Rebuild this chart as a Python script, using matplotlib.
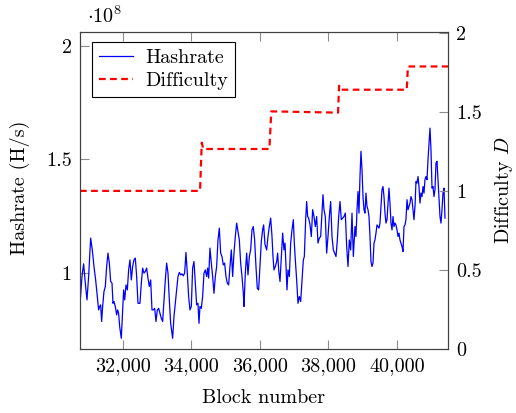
import matplotlib
matplotlib.use('Agg')
import matplotlib.pyplot as plt
from matplotlib.ticker import FuncFormatter

plt.rcParams['font.family'] = 'serif'
plt.rcParams['font.serif'] = ['cmr10']
plt.rcParams['mathtext.fontset'] = 'cm'
plt.rcParams['axes.formatter.use_mathtext'] = True

# hashrate, in units of 1e8 H/s
blocks = [30745, 30754, 30803, 30851, 30900, 30949, 30997, 31056, 31104, 31153,
          31202, 31250, 31289, 31319, 31348, 31377, 31406, 31445, 31484, 31523,
          31562, 31601, 31640, 31679, 31708, 31737, 31776, 31815, 31844, 31873,
          31903, 31951, 31990, 32019, 32049, 32088, 32127, 32165, 32204, 32243,
          32282, 32321, 32360, 32399, 32438, 32496, 32535, 32574, 32613, 32652,
          32691, 32730, 32769, 32808, 32847, 32886, 32925, 32964, 33003, 33042,
          33080, 33119, 33158, 33197, 33236, 33275, 33314, 33353, 33392, 33450,
          33489, 33528, 33567, 33606, 33645, 33683, 33722, 33761, 33800, 33839,
          33878, 33917, 33956, 33995, 34034, 34073, 34112, 34151, 34190, 34219,
          34248, 34287, 34326, 34365, 34404, 34443, 34472, 34501, 34540, 34579,
          34618, 34657, 34696, 34735, 34774, 34813, 34852, 34890, 34929, 34968,
          35007, 35046, 35085, 35124, 35163, 35202, 35241, 35280, 35319, 35358,
          35397, 35436, 35475, 35514, 35533, 35572, 35611, 35650, 35689, 35728,
          35767, 35805, 35844, 35883, 35922, 35961, 36000, 36039, 36078, 36107,
          36146, 36195, 36234, 36273, 36312, 36351, 36380, 36409, 36448, 36487,
          36516, 36546, 36585, 36624, 36662, 36701, 36731, 36760, 36789, 36818,
          36857, 36896, 36935, 36974, 37003, 37032, 37071, 37110, 37149, 37188,
          37227, 37266, 37295, 37334, 37363, 37392, 37422, 37461, 37499, 37538,
          37577, 37616, 37655, 37694, 37733, 37772, 37811, 37840, 37869, 37908,
          37947, 37986, 38025, 38064, 38103, 38142, 38181, 38220, 38259, 38298,
          38337, 38375, 38414, 38453, 38492, 38531, 38570, 38609, 38648, 38687,
          38726, 38774, 38803, 38833, 38862, 38891, 38920, 38949, 38979, 39008,
          39037, 39066, 39095, 39125, 39154, 39183, 39212, 39241, 39271, 39300,
          39329, 39358, 39387, 39417, 39446, 39475, 39504, 39533, 39563, 39592,
          39621, 39650, 39679, 39709, 39738, 39767, 39796, 39825, 39855, 39884,
          39913, 39942, 39971, 40001, 40030, 40059, 40088, 40117, 40147, 40176,
          40205, 40234, 40263, 40293, 40322, 40351, 40380, 40409, 40439, 40468,
          40497, 40526, 40555, 40585, 40614, 40643, 40672, 40701, 40731, 40760,
          40789, 40818, 40847, 40877, 40906, 40935, 40964, 40993, 41023, 41052,
          41081, 41110, 41139, 41169, 41198, 41227, 41256, 41285, 41315, 41344,
          41373, 41402]
hashrate = [0.60, 0.881, 0.984, 1.040, 0.955, 0.881, 0.984, 1.153, 1.101, 1.028,
            0.969, 0.896, 0.837, 0.852, 0.859, 0.786, 0.852, 0.918, 0.940, 1.028,
            1.087, 1.043, 0.962, 0.955, 0.866, 0.874, 0.852, 0.815, 0.837, 0.822,
            0.764, 0.712, 0.837, 0.925, 0.881, 0.947, 0.925, 1.013, 1.057, 0.969,
            1.028, 1.057, 1.065, 0.984, 0.866, 0.866, 0.955, 1.021, 0.999, 1.006,
            1.021, 0.977, 0.940, 0.969, 0.837, 0.837, 0.844, 0.786, 0.837, 0.844,
            0.822, 0.800, 0.786, 0.881, 0.969, 1.043, 0.999, 0.881, 0.778, 0.712,
            0.808, 0.866, 0.925, 0.984, 1.002, 0.991, 0.996, 0.987, 0.999, 1.090,
            0.999, 0.896, 0.837, 0.852, 1.021, 1.050, 0.955, 0.859, 0.866, 0.778,
            0.852, 0.844, 0.896, 0.999, 1.013, 0.984, 1.021, 0.977, 1.109, 1.043,
            0.984, 0.910, 0.984, 1.028, 1.145, 1.197, 1.087, 1.072, 1.035, 1.043,
            0.984, 0.955, 0.947, 1.028, 1.101, 0.984, 1.087, 1.160, 1.219, 1.182,
            1.145, 1.043, 0.984, 0.910, 0.852, 0.999, 1.087, 0.991, 1.072, 1.101,
            1.189, 1.204, 1.145, 1.028, 0.932, 0.925, 1.028, 1.138, 1.190, 1.211,
            1.125, 1.101, 1.160, 1.204, 1.241, 1.160, 1.072, 1.013, 1.028, 1.050,
            1.087, 1.013, 0.962, 1.072, 1.175, 1.101, 1.131, 1.028, 0.925, 1.013,
            0.984, 1.131, 1.189, 1.234, 1.131, 1.057, 0.969, 0.866, 0.896, 0.874,
            0.969, 1.057, 1.072, 1.234, 1.314, 1.248, 1.241, 1.211, 1.160, 1.278,
            1.248, 1.204, 1.248, 1.131, 1.153, 1.160, 1.263, 1.344, 1.278, 1.248,
            1.087, 1.160, 1.248, 1.314, 1.160, 1.101, 1.087, 1.072, 1.145, 1.248,
            1.314, 1.234, 1.241, 1.248, 1.263, 1.116, 1.028, 1.145, 1.101, 1.263,
            1.072, 1.204, 1.160, 1.278, 1.358, 1.263, 1.424, 1.535, 1.454, 1.336,
            1.278, 1.263, 1.351, 1.292, 1.278, 1.248, 1.160, 1.050, 1.028, 1.043,
            1.131, 1.145, 1.175, 1.211, 1.204, 1.197, 1.219, 1.292, 1.366, 1.380,
            1.336, 1.263, 1.219, 1.234, 1.307, 1.373, 1.307, 1.219, 1.189, 1.248,
            1.204, 1.219, 1.211, 1.189, 1.160, 1.175, 1.145, 1.131, 1.116, 1.094,
            1.204, 1.211, 1.234, 1.322, 1.278, 1.292, 1.307, 1.336, 1.322, 1.278,
            1.234, 1.292, 1.402, 1.395, 1.424, 1.380, 1.307, 1.351, 1.336, 1.380,
            1.351, 1.410, 1.424, 1.410, 1.498, 1.571, 1.637, 1.542, 1.373, 1.380,
            1.336, 1.366, 1.483, 1.491, 1.410, 1.336, 1.248, 1.219, 1.278, 1.351,
            1.373, 1.241]

diff_blocks = [30745, 34250, 34300, 34345, 36275, 36330, 38280, 38310, 38345,
               40285, 40320, 41490]
difficulty = [1.0, 1.0, 1.305, 1.265, 1.265, 1.503, 1.495, 1.665, 1.640,
              1.640, 1.787, 1.787]

W, H = 516, 413
fig = plt.figure(figsize=(W / 100, H / 100), dpi=100)
ax = fig.add_axes([80 / W, 1 - 349 / H, 368 / W, 317 / H])
ax2 = ax.twinx()

l1, = ax.plot(blocks, hashrate, color='blue', lw=0.9, label='Hashrate')
l2, = ax2.plot(diff_blocks, difficulty, color='red', lw=1.6, dashes=(3, 2),
               label='Difficulty')

ax.set_xlim(30745, 41490)
ax.set_ylim(0.665, 2.06)
ax2.set_ylim(0, 2.005)

ax.set_xticks([32000, 34000, 36000, 38000, 40000])
ax.set_yticks([1, 1.5, 2])
ax2.set_yticks([0, 0.5, 1, 1.5, 2])
fmt = FuncFormatter(lambda v, p: '%g' % v)
ax.yaxis.set_major_formatter(fmt)
ax2.yaxis.set_major_formatter(fmt)
ax.xaxis.set_major_formatter(FuncFormatter(lambda v, p: '{:,.0f}'.format(v)))

for a in (ax, ax2):
    for s in a.spines.values():
        s.set_color('0.25')
        s.set_linewidth(0.8)
    a.tick_params(direction='in', length=6.5, width=0.8, color='0.55',
                  labelsize=14.5, pad=6)
ax.tick_params(axis='x', top=True)

fig.text(105 / W, 1 - 16 / H, r'$\cdot 10^8$', fontsize=14.5, ha='center', va='center')
fig.text(20 / W, 1 - 188 / H, 'Hashrate (H/s)', fontsize=14.5, rotation=90,
         ha='center', va='center')
fig.text(504 / W, 1 - 190 / H, r'Difficulty $D$', fontsize=14.5, rotation=90,
         ha='center', va='center')
fig.text(264 / W, 1 - 398 / H, 'Block number', fontsize=14.5, ha='center', va='center')

leg = ax2.legend([l1, l2], ['Hashrate', 'Difficulty'], loc='upper left',
                 bbox_to_anchor=(12 / 368, 1 - 10 / 317), borderaxespad=0,
                 fontsize=14.5, fancybox=False, framealpha=1, handlelength=1.7,
                 borderpad=0.35, labelspacing=0.25, handletextpad=0.6)
leg.get_frame().set_edgecolor('black')
leg.get_frame().set_linewidth(0.8)

fig.savefig('out.png', dpi=100)
